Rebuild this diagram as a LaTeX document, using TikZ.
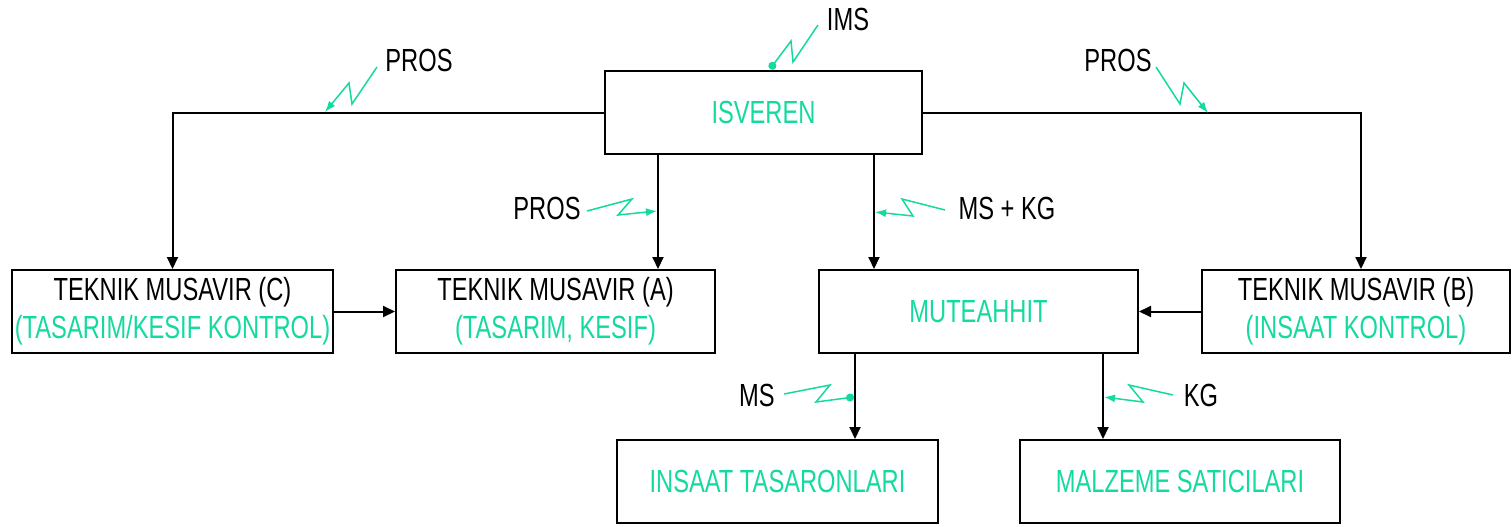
\documentclass[tikz,border=0pt]{standalone}
\usepackage{fontspec}
\setmainfont[FakeStretch=0.74]{Liberation Sans}
\usetikzlibrary{arrows.meta}
\definecolor{cadgreen}{RGB}{20,218,160}
\begin{document}
\begin{tikzpicture}[x=0.5pt,y=-0.5pt,
  box/.style={draw=black,line width=1pt,inner sep=0pt,align=center,
    font=\fontsize{16}{19}\selectfont,text=black},
  conn/.style={line width=1pt,draw=black},
  arr/.style={conn,-{Triangle[length=6pt,width=5.5pt]}},
  leader/.style={draw=cadgreen,line width=0.75pt,line join=miter},
  larr/.style={leader,-{Latex[length=5.5pt,width=4pt]}},
  ldot/.style={leader,-{Circle[length=4pt]}},
  lbl/.style={font=\fontsize{16}{19}\selectfont,text=black,inner sep=0pt},
  grn/.style={text=cadgreen}]
\useasboundingbox (0,0) rectangle (1512,526);
\fill[white] (0,0) rectangle (1512,526);

% boxes
\node[box,minimum width=158.5pt,minimum height=41.5pt] (isv) at (763.5,112.5) {\textcolor{cadgreen}{ISVEREN}};
\node[box,minimum width=160.5pt,minimum height=41.5pt] (tmc) at (172.5,311.5) {TEKNIK MUSAVIR (C)\\\textcolor{cadgreen}{(TASARIM/KESIF KONTROL)}};
\node[box,minimum width=159.5pt,minimum height=41.5pt] (tma) at (555.5,311.5) {TEKNIK MUSAVIR (A)\\\textcolor{cadgreen}{(TASARIM, KESIF)}};
\node[box,minimum width=159.5pt,minimum height=41.5pt] (mut) at (978.5,311.5) {\textcolor{cadgreen}{MUTEAHHIT}};
\node[box,minimum width=154pt,minimum height=41.5pt] (tmb) at (1356,311.5) {TEKNIK MUSAVIR (B)\\\textcolor{cadgreen}{(INSAAT KONTROL)}};
\node[box,minimum width=160.5pt,minimum height=41.5pt] (ins) at (777.5,481.5) {\textcolor{cadgreen}{INSAAT TASARONLARI}};
\node[box,minimum width=160pt,minimum height=41.5pt] (mal) at (1180,481.5) {\textcolor{cadgreen}{MALZEME SATICILARI}};

% connector columns
\coordinate (xa) at (658,0);
\coordinate (xm) at (874,0);
\coordinate (xb) at (1361,0);
\coordinate (xi) at (855,0);
\coordinate (xs) at (1103,0);

% connectors
\draw[arr] (isv.west) -| (tmc.north);
\draw[arr] (isv.east) -| (tmb.north -| xb);
\draw[arr] (isv.south -| xa) -- (tma.north -| xa);
\draw[arr] (isv.south -| xm) -- (mut.north -| xm);
\draw[arr] (tmc.east) -- (tma.west);
\draw[arr] (tmb.west) -- (mut.east);
\draw[arr] (mut.south -| xi) -- (ins.north -| xi);
\draw[arr] (mut.south -| xs) -- (mal.north -| xs);

% labels
\node[lbl] (ims) at (848,19) {IMS};
\node[lbl] (prosl) at (419,60) {PROS};
\node[lbl] (prosr) at (1118,60) {PROS};
\node[lbl] (prosm) at (547,208) {PROS};
\node[lbl] (mskg) at (1007,208) {MS + KG};
\node[lbl] (ms) at (757,395) {MS};
\node[lbl] (kg) at (1201,395) {KG};

% leaders
\draw[ldot] (818,25) -- (793,62) -- (791,41) -- (770,69);
\draw[larr] (377,67) -- (352,104) -- (349,83) -- (325,112);
\draw[larr] (1156,67) -- (1180,104) -- (1184,83) -- (1208,113);
\draw[larr] (587,211) -- (632,199) -- (618,215) -- (657,211);
\draw[larr] (945,210) -- (902,199) -- (913,216) -- (875,212);
\draw[ldot] (784,394) -- (830,385) -- (816,402) -- (854,397);
\draw[larr] (1173,395) -- (1129,385) -- (1143,402) -- (1104,397);
\end{tikzpicture}
\end{document}
